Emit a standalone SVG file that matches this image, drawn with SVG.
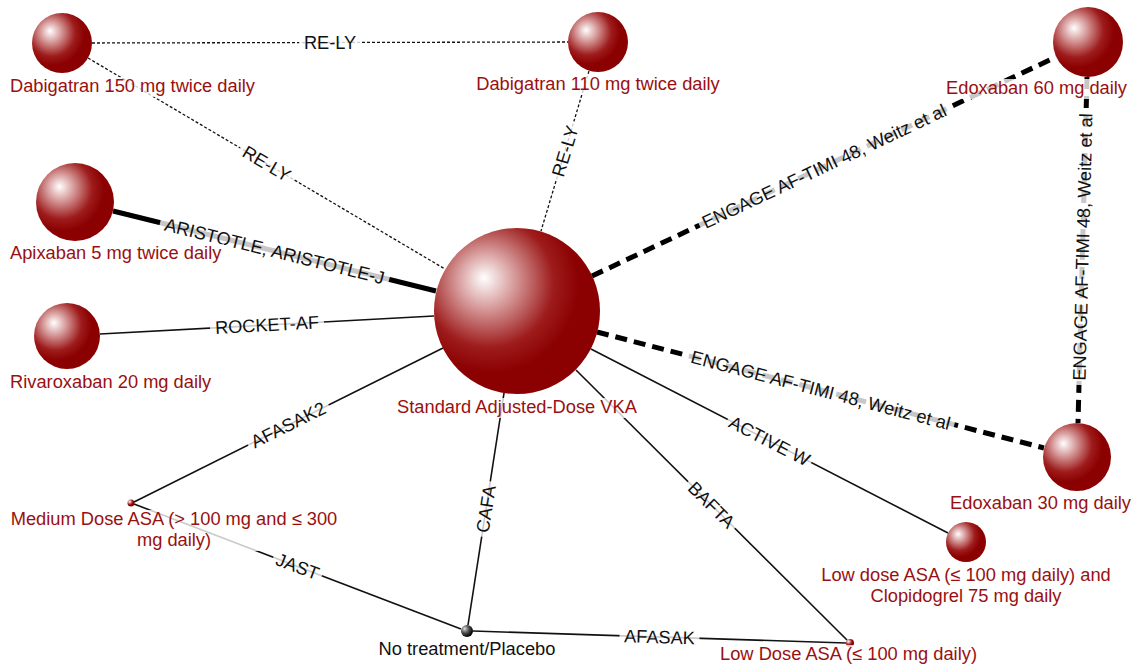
<svg xmlns="http://www.w3.org/2000/svg" width="1137" height="665" viewBox="0 0 1137 665">
<defs>
<radialGradient id="sph" cx="0.35" cy="0.35" r="0.65" fx="0.3" fy="0.3">
<stop offset="0" stop-color="#ffffff"/>
<stop offset="0.25" stop-color="#d9a0a0"/>
<stop offset="0.6" stop-color="#9e1c1c"/>
<stop offset="0.82" stop-color="#8b0000"/>
</radialGradient>
<radialGradient id="sphk" cx="0.35" cy="0.35" r="0.65" fx="0.3" fy="0.3">
<stop offset="0" stop-color="#e0e0e0"/>
<stop offset="0.5" stop-color="#555555"/>
<stop offset="1" stop-color="#000000"/>
</radialGradient>
</defs>
<style>
.dot{stroke:#111;stroke-width:1.3;stroke-dasharray:3 2;fill:none}
.thin{stroke:#111;stroke-width:1.6;fill:none}
.thick{stroke:#000;stroke-width:5;fill:none}
.dash{stroke:#000;stroke-width:5;stroke-dasharray:12 7;fill:none}
.bg{fill:#ffffff;fill-opacity:0.78}
.el{font-family:"Liberation Sans",Arial,sans-serif;font-size:18.2px;fill:#111;text-anchor:middle}
.nl{font-family:"Liberation Sans",Arial,sans-serif;font-size:18.3px;fill:#9a1010}
.red{fill:url(#sph)}
</style>
<rect width="1137" height="665" fill="#ffffff"/>
<g id="connectors">
<line class="dot" x1="92" y1="43" x2="568" y2="42"/>
<line class="dot" x1="88" y1="58" x2="445" y2="269"/>
<line class="dot" x1="589" y1="71" x2="541" y2="231"/>
<line class="thick" x1="113" y1="211" x2="436" y2="291"/>
<line class="thin" x1="100" y1="334" x2="434" y2="316"/>
<line class="dash" x1="592" y1="276" x2="1056" y2="57"/>
<line class="dash" x1="597" y1="332" x2="1044" y2="448"/>
<line class="dash" x1="1087" y1="77" x2="1078" y2="423"/>
<line class="thin" x1="591" y1="349" x2="948" y2="533"/>
<line class="thin" x1="576" y1="370" x2="847" y2="640"/>
<line class="thin" x1="504" y1="393" x2="468" y2="625"/>
<line class="thin" x1="443" y1="348" x2="134" y2="502"/>
<line class="thin" x1="134" y1="504" x2="461" y2="629"/>
<line class="thin" x1="473" y1="631" x2="846" y2="643"/>
<g transform="translate(330,42.5)"><rect class="bg" x="-31" y="-10" width="62" height="20"/><text class="el" y="6.3">RE-LY</text></g>
<g transform="translate(266.7,163.6) rotate(30.5)"><rect class="bg" x="-31" y="-10" width="62" height="20"/><text class="el" y="6.3">RE-LY</text></g>
<g transform="translate(565.1,151.1) rotate(-73.2)"><rect class="bg" x="-31" y="-10" width="62" height="20"/><text class="el" y="6.3">RE-LY</text></g>
<g transform="translate(274.6,251.2) rotate(13.85)"><rect class="bg" x="-118" y="-10" width="236" height="20"/><text class="el" y="6.3">ARISTOTLE, ARISTOTLE-J</text></g>
<g transform="translate(267,324.9) rotate(-3.18)"><rect class="bg" x="-57" y="-10" width="114" height="20"/><text class="el" y="6.3">ROCKET-AF</text></g>
<g transform="translate(824.2,166.3) rotate(-25.2)"><rect class="bg" x="-138" y="-10" width="276" height="20"/><text class="el" y="6.3">ENGAGE AF-TIMI 48, Weitz et al</text></g>
<g transform="translate(820.7,390.2) rotate(14.6)"><rect class="bg" x="-138" y="-10" width="276" height="20"/><text class="el" y="6.3">ENGAGE AF-TIMI 48, Weitz et al</text></g>
<g transform="translate(1082.6,247) rotate(-88.5)"><rect class="bg" x="-138" y="-10" width="276" height="20"/><text class="el" y="6.3">ENGAGE AF-TIMI 48, Weitz et al</text></g>
<g transform="translate(769.5,441) rotate(27.2)"><rect class="bg" x="-47" y="-10" width="94" height="20"/><text class="el" y="6.3">ACTIVE W</text></g>
<g transform="translate(711.5,504.9) rotate(44.9)"><rect class="bg" x="-33" y="-10" width="66" height="20"/><text class="el" y="6.3">BAFTA</text></g>
<g transform="translate(486,509) rotate(-81.1)"><rect class="bg" x="-28" y="-10" width="56" height="20"/><text class="el" y="6.3">CAFA</text></g>
<g transform="translate(288.2,424.8) rotate(-26.4)"><rect class="bg" x="-45" y="-10" width="90" height="20"/><text class="el" y="6.3">AFASAK2</text></g>
<g transform="translate(297.6,566.5) rotate(20.85)"><rect class="bg" x="-26" y="-10" width="52" height="20"/><text class="el" y="6.3">JAST</text></g>
<g transform="translate(659.5,637) rotate(1.8)"><rect class="bg" x="-40" y="-10" width="80" height="20"/><text class="el" y="6.3">AFASAK</text></g>
</g>
<g id="node-dab150"><circle class="red" cx="62" cy="43" r="30"/><rect class="bg" x="8" y="77" width="252" height="20"/><text class="nl" x="10" y="92">Dabigatran 150 mg twice daily</text></g>
<g id="node-dab110"><circle class="red" cx="598" cy="42" r="30"/><rect class="bg" x="472" y="75" width="252" height="20"/><text class="nl" x="598" y="90" text-anchor="middle">Dabigatran 110 mg twice daily</text></g>
<g id="node-edox60"><circle class="red" cx="1088" cy="42" r="35"/><rect class="bg" x="945" y="79" width="184" height="20"/><text class="nl" x="1127" y="94" text-anchor="end">Edoxaban 60 mg daily</text></g>
<g id="node-apix"><circle class="red" cx="75" cy="202" r="39"/><rect class="bg" x="8" y="244" width="216" height="20"/><text class="nl" x="10" y="259">Apixaban 5 mg twice daily</text></g>
<g id="node-riva"><circle class="red" cx="67" cy="336" r="33"/><rect class="bg" x="8" y="373" width="206" height="20"/><text class="nl" x="10" y="388">Rivaroxaban 20 mg daily</text></g>
<g id="node-vka"><circle class="red" cx="517" cy="311" r="83"/><rect class="bg" x="394" y="398" width="246" height="20"/><text class="nl" x="517" y="413" text-anchor="middle">Standard Adjusted-Dose VKA</text></g>
<g id="node-edox30"><circle class="red" cx="1077" cy="457" r="34"/><rect class="bg" x="947" y="494" width="186" height="20"/><text class="nl" x="1131" y="509" text-anchor="end">Edoxaban 30 mg daily</text></g>
<g id="node-asaclop"><circle class="red" cx="966" cy="542" r="20"/><rect class="bg" x="816" y="566" width="300" height="41"/><text class="nl" x="966" y="581" text-anchor="middle">Low dose ASA (≤ 100 mg daily) and</text><text class="nl" x="966" y="602" text-anchor="middle">Clopidogrel 75 mg daily</text></g>
<g id="node-medasa"><circle class="red" cx="131" cy="503" r="3.5"/><rect class="bg" x="6" y="510" width="336" height="41"/><text class="nl" x="174" y="525" text-anchor="middle">Medium Dose ASA (&gt; 100 mg and ≤ 300</text><text class="nl" x="174" y="546" text-anchor="middle">mg daily)</text></g>
<g id="node-placebo"><circle fill="url(#sphk)" cx="467" cy="631" r="6"/><text x="467" y="655" text-anchor="middle" font-family="'Liberation Sans',Arial,sans-serif" font-size="18.3" fill="#111">No treatment/Placebo</text></g>
<g id="node-lowasa"><circle class="red" cx="850" cy="643" r="4"/><rect class="bg" x="715" y="645" width="268" height="20"/><text class="nl" x="848.5" y="660" text-anchor="middle">Low Dose ASA (≤ 100 mg daily)</text></g>
</svg>
